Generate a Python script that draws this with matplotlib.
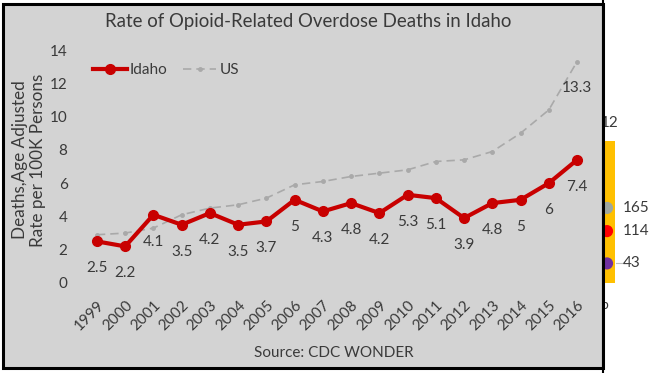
import matplotlib.pyplot as plt
from matplotlib.patches import Rectangle
from matplotlib.lines import Line2D

plt.rcParams['font.family'] = ['Lato', 'DejaVu Sans']

# Data
years = [str(y) for y in range(1999, 2017)]
idaho = [2.5, 2.2, 4.1, 3.5, 4.2, 3.5, 3.7, 5, 4.3, 4.8, 4.2, 5.3, 5.1, 3.9, 4.8, 5, 6, 7.4]
us = [2.9, 3.0, 3.3, 4.1, 4.5, 4.7, 5.1, 5.9, 6.1, 6.4, 6.6, 6.8, 7.3, 7.4, 7.9, 9.0, 10.4, 13.3]

# cut-off chart peeking in on the right
side_bar = [12]
side_values = [165, 114, 43]
side_colors = ['#9fa79f', '#ff0000', '#7030a0']

W, H = 658, 373
fig = plt.figure(figsize=(W / 100, H / 100), dpi=100)
fig.patch.set_facecolor('white')

def fx(px):
    return px / W

def fy(py):
    return 1 - py / H

text_col = '#3a3a3a'

# grey panel of the main chart
panel = Rectangle((fx(3), fy(368)), fx(603) - fx(3), fy(4) - fy(368),
                  transform=fig.transFigure, facecolor='#d3d3d3',
                  edgecolor='black', linewidth=2.2, zorder=1)
fig.patches.append(panel)
fig.add_artist(Line2D([fx(603), fx(603)], [0, 1], transform=fig.transFigure,
                      color='black', lw=1.5, zorder=1.5))

# main chart
ax = fig.add_axes([fx(80), fy(283), fx(594) - fx(80), fy(50) - fy(283)])
ax.set_zorder(2)
ax.set_facecolor('none')
x = list(range(len(years)))

ax.plot(x, us, color='#a9a9a9', lw=1.2, ls=(0, (5, 3)), marker='o', ms=2.5,
        label='US', zorder=2, clip_on=False)
ax.plot(x, idaho, color='#c80000', lw=3, marker='o', ms=7, label='Idaho',
        zorder=3, clip_on=False)

for xi, v in zip(x, idaho):
    ax.annotate(f'{v:g}', (xi, v), xytext=(0, -27), textcoords='offset pixels',
                ha='center', va='center', fontsize=11, color=text_col)
ax.annotate(f'{us[-1]:g}', (x[-1], us[-1]), xytext=(0, -26), textcoords='offset pixels',
            ha='center', va='center', fontsize=11, color=text_col)

ax.set_xlim(-0.6, len(years) - 0.4)
ax.set_ylim(0, 14)
ax.set_yticks(range(0, 15, 2))
ax.set_xticks(x)
ax.set_xticklabels(years, rotation=45, ha='right', rotation_mode='anchor')
ax.tick_params(axis='both', length=0, labelsize=11, colors=text_col)
ax.tick_params(axis='y', pad=9)
ax.tick_params(axis='x', pad=11)
for s in ax.spines.values():
    s.set_visible(False)

handles, labels = ax.get_legend_handles_labels()
ax.legend(handles[::-1], labels[::-1], loc='upper left', ncol=2, frameon=False,
          bbox_to_anchor=((93 - 80) / 514, (283 - 63) / 233), borderaxespad=0,
          borderpad=0, handlelength=2.2, handletextpad=0.2, columnspacing=1.0,
          fontsize=11, labelcolor=text_col)

fig.text(fx(308), fy(22), 'Rate of Opioid-Related Overdose Deaths in Idaho',
         ha='center', va='center', fontsize=13.4, color=text_col, zorder=3)
fig.text(fx(29), fy(160), 'Deaths,Age Adjusted\nRate per 100K Persons', rotation=90,
         ha='center', va='center', multialignment='center', fontsize=12.3,
         linespacing=1.1, color=text_col, zorder=3)
fig.text(fx(334), fy(353), 'Source: CDC WONDER', ha='center', va='center',
         fontsize=11, color=text_col, zorder=3)

# fragment of the neighbouring chart
ax2 = fig.add_axes([fx(595), fy(283), fx(658) - fx(595), fy(141) - fy(283)])
ax2.set_zorder(0)
ax2.axis('off')
ax2.set_xlim(-1.5, 4.8)
ax2.set_ylim(0, 12)
ax2.bar([0], side_bar, width=1.0, color='#ffc000')
ax2.annotate(f'{side_bar[0]}', (0, side_bar[0]), xytext=(0, 18), textcoords='offset pixels',
             ha='center', va='center', fontsize=11, color=text_col, annotation_clip=False)
ax3 = ax2.twinx()
ax3.axis('off')
ax3.set_ylim(0, 12 * 26)
ax3.scatter([-0.3] * 3, side_values, s=60, color=side_colors, zorder=3, clip_on=False)
for v in side_values:
    ax3.annotate(f'{v}', (-0.3, v), xytext=(16, 0), textcoords='offset pixels',
                 ha='left', va='center', fontsize=11, color=text_col, annotation_clip=False)
ax3.plot([0.6, 1.3], [side_values[-1]] * 2, color='#bfbfbf', lw=0.8)
fig.text(fx(601), fy(305), 'b', ha='left', va='center', fontsize=10,
         color=text_col, zorder=0.5)

fig.savefig('out.png', dpi=100)
